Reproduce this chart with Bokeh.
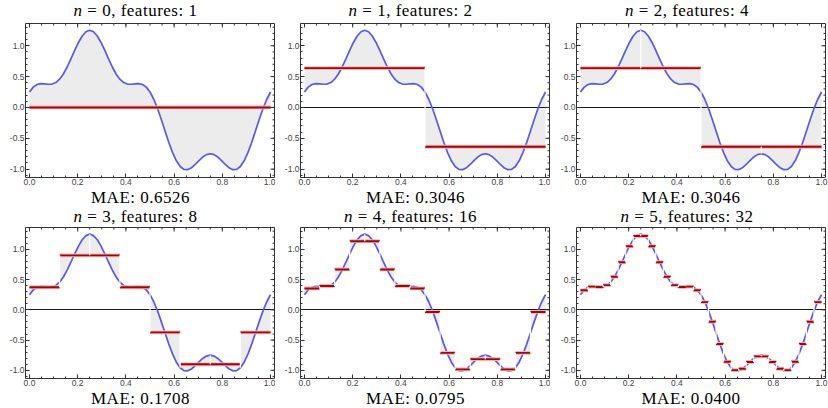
from bokeh.plotting import figure
from bokeh.models import Range1d, FixedTicker, NumeralTickFormatter, Div
from bokeh.layouts import column, row
from bokeh.embed import file_html
from bokeh.resources import INLINE

# ---- data ----
curve_x = [j / 64 for j in range(65)]
curve_y = [0.250, 0.329, 0.372, 0.386, 0.383, 0.376, 0.379, 0.403, 0.457, 0.542, 0.655, 0.786, 0.924, 1.053, 1.158, 1.226, 1.250,
           1.226, 1.158, 1.053, 0.924, 0.786, 0.655, 0.542, 0.457, 0.403, 0.379, 0.376, 0.383, 0.386, 0.372, 0.329, 0.250,
           0.133, -0.018, -0.195, -0.383, -0.567, -0.732, -0.865, -0.957, -1.004, -1.008, -0.978, -0.924, -0.861, -0.804, -0.764, -0.750,
           -0.764, -0.804, -0.861, -0.924, -0.978, -1.008, -1.004, -0.957, -0.865, -0.732, -0.567, -0.383, -0.195, -0.018, 0.133, 0.250]

levels_n0 = [0.0]
levels_n1 = [0.637, -0.637]
levels_n2 = [0.637, 0.637, -0.637, -0.637]
levels_n3 = [0.373, 0.900, 0.900, 0.373, -0.373, -0.900, -0.900, -0.373]
levels_n4 = [0.353, 0.393, 0.667, 1.134, 1.134, 0.667, 0.393, 0.353,
             -0.035, -0.711, -0.985, -0.815, -0.815, -0.985, -0.711, -0.035]
levels_n5 = [0.323, 0.383, 0.377, 0.408, 0.547, 0.787, 1.049, 1.219,
             1.219, 1.049, 0.787, 0.547, 0.408, 0.377, 0.383, 0.323,
             0.127, -0.197, -0.564, -0.858, -0.997, -0.974, -0.862, -0.769,
             -0.769, -0.862, -0.974, -0.997, -0.858, -0.564, -0.197, 0.127]
all_levels = [levels_n0, levels_n1, levels_n2, levels_n3, levels_n4, levels_n5]
n_values = [0, 1, 2, 3, 4, 5]
features = [1, 2, 4, 8, 16, 32]
mae_values = ["0.6526", "0.3046", "0.3046", "0.1708", "0.0795", "0.0400"]

x_major = [0.0, 0.2, 0.4, 0.6, 0.8, 1.0]
x_minor = [i * 0.05 for i in range(21)]
y_major = [-1.0, -0.5, 0.0, 0.5, 1.0]
y_minor = [i * 0.1 for i in range(-11, 14)]

# ---- style ----
BLUE = "#5858f2"
FILL = "#ececec"
RED = "#b00000"
RED_HALO = "#eab8b8"
FRAME = "#333333"
SERIF = "Liberation Serif"
SANS = "Liberation Sans"
X0, X1 = -0.0165, 1.0165
Y0, Y1 = -1.135, 1.36
FRAME_W = 249


def style_axis(ax, ticker):
    ax.ticker = ticker
    ax.formatter = NumeralTickFormatter(format="0.0")
    ax.axis_line_color = None
    ax.major_tick_in = 4
    ax.major_tick_out = 0
    ax.minor_tick_in = 2
    ax.minor_tick_out = 0
    ax.major_tick_line_color = FRAME
    ax.minor_tick_line_color = FRAME
    ax.major_label_text_font = SANS
    ax.major_label_text_font_size = "8.5px"
    ax.major_label_text_color = "#444444"
    ax.major_label_standoff = 1


def make_panel(idx, width, height, left, right, top, bottom, frame_h):
    vals = all_levels[idx]
    N = len(vals)
    step = 64 // N
    p = figure(width=width, height=height,
               x_range=Range1d(X0, X1), y_range=Range1d(Y0, Y1),
               output_backend="svg", toolbar_location=None,
               min_border_left=left, min_border_right=right,
               min_border_top=top, min_border_bottom=bottom,
               background_fill_color="white", border_fill_color="white")
    p.outline_line_color = FRAME
    p.outline_line_width = 1
    p.xgrid.grid_line_color = None
    p.ygrid.grid_line_color = None

    # fill between curve and piecewise-constant approximation
    fx, fy1, fy2 = [], [], []
    for i, v in enumerate(vals):
        for j in range(i * step, (i + 1) * step + 1):
            fx.append(curve_x[j])
            fy1.append(curve_y[j])
            fy2.append(v)
    p.varea(x=fx, y1=fy1, y2=fy2, fill_color=FILL)

    p.hspan(y=[0.0], line_color="#1a1a1a", line_width=1.2)

    p.line(curve_x, curve_y, line_color=BLUE, line_width=1.7)

    edges = [i / N for i in range(N + 1)]
    p.segment(x0=edges[:-1], x1=edges[1:], y0=vals, y1=vals,
              line_color=RED_HALO, line_width=3.8, line_cap="butt")
    p.segment(x0=edges[:-1], x1=edges[1:], y0=vals, y1=vals,
              line_color=RED, line_width=1.9, line_cap="butt")

    # white separators between pieces
    if N > 1:
        sx, sy0, sy1 = [], [], []
        for i in range(1, N):
            fval = curve_y[i * step]
            trio = [vals[i - 1], vals[i], fval]
            sx.append(edges[i])
            sy0.append(min(trio))
            sy1.append(max(trio))
        p.segment(x0=sx, x1=sx, y0=sy0, y1=sy1, line_color="white", line_width=1.2)

    style_axis(p.xaxis[0], FixedTicker(ticks=x_major, minor_ticks=x_minor))
    style_axis(p.yaxis[0], FixedTicker(ticks=y_major, minor_ticks=y_minor))

    # frame ticks on the top and right edges (same tick positions as the axes)
    ypx = (Y1 - Y0) / frame_h
    xpx = (X1 - X0) / FRAME_W
    p.segment(x0=x_major, x1=x_major, y0=[Y1] * len(x_major), y1=[Y1 - 4 * ypx] * len(x_major),
              line_color=FRAME, line_width=1)
    p.segment(x0=x_minor, x1=x_minor, y0=[Y1] * len(x_minor), y1=[Y1 - 2 * ypx] * len(x_minor),
              line_color=FRAME, line_width=1)
    p.segment(x0=[X1] * len(y_major), x1=[X1 - 4 * xpx] * len(y_major), y0=y_major, y1=y_major,
              line_color=FRAME, line_width=1)
    p.segment(x0=[X1] * len(y_minor), x1=[X1 - 2 * xpx] * len(y_minor), y0=y_minor, y1=y_minor,
              line_color=FRAME, line_width=1)
    return p


def text_div(html, width, height, shift):
    inner = (f'<div style="font-family:\'{SERIF}\'; font-size:17px; line-height:{height}px; '
             f'letter-spacing:0.5px; color:black; text-align:center; width:{width}px; '
             f'position:relative; left:{shift}px; white-space:nowrap;">{html}</div>')
    return Div(text=inner, width=width, height=height, margin=(0, 0, 0, 0),
               styles={"overflow": "visible"})


widths = [275, 275, 278]
lefts = [25, 25, 26]
rights = [1, 1, 3]
title_shift = [-2, -2, -2]
mae_shift = [3, 3, 2]
row_specs = [
    dict(title_h=22, fig_h=166, top=1, bottom=11, mae_h=19),
    dict(title_h=19, fig_h=163, top=1, bottom=11, mae_h=19),
]
rows = []
for r in range(2):
    spec = row_specs[r]
    frame_h = spec["fig_h"] - spec["top"] - spec["bottom"]
    cols = []
    for c in range(3):
        idx = r * 3 + c
        fig = make_panel(idx, widths[c], spec["fig_h"], lefts[c], rights[c],
                         spec["top"], spec["bottom"], frame_h)
        t = text_div(f"<i>n</i> = {n_values[idx]}, features: {features[idx]}",
                     widths[c], spec["title_h"], title_shift[c])
        m = text_div(f"MAE: {mae_values[idx]}", widths[c], spec["mae_h"], mae_shift[c])
        cols.append(column(t, fig, m, spacing=0))
    rows.append(row(*cols, spacing=0))

layout = column(*rows, spacing=0)
open("out.html", "w").write(file_html(layout, INLINE))
